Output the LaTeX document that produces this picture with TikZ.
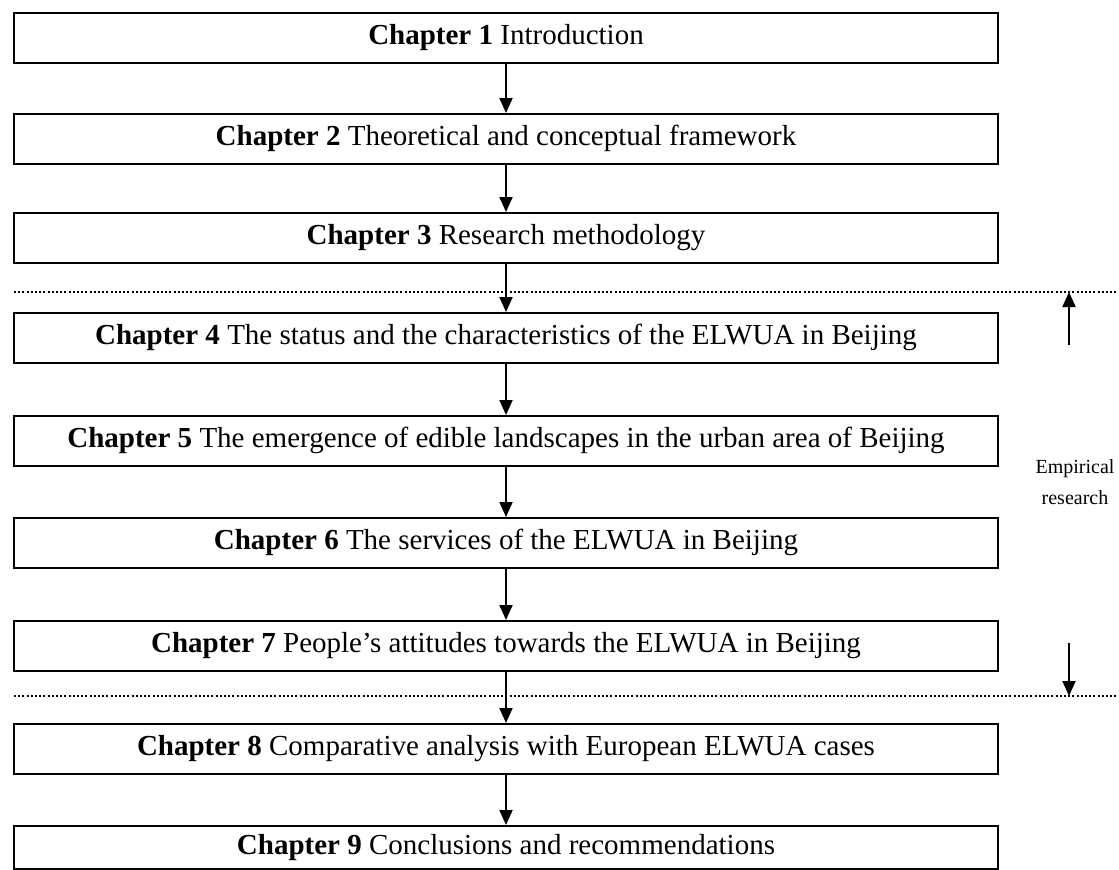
\documentclass[tikz,border=0pt]{standalone}
\usepackage{fontspec}
\setmainfont{Liberation Serif}
\usetikzlibrary{arrows.meta}

\begin{document}
\begin{tikzpicture}[x=1pt,y=-1pt,
    chap/.style={draw, line width=1.6pt, minimum width=984pt, minimum height=50pt,
      inner sep=0pt, anchor=north, font=\fontsize{29}{33}\selectfont},
    flow/.style={-{Triangle[width=13pt,length=15pt]}, line width=2pt},
    sep/.style={line width=2pt, dash pattern=on 2pt off 2.2pt}]
    \useasboundingbox (0,0) rectangle (1119,870);
    % chapters
    \node[chap] (c1) at (506,12) {\textbf{Chapter 1} Introduction};
    \node[chap] (c2) at (506,113) {\textbf{Chapter 2} Theoretical and conceptual framework};
    \node[chap] (c3) at (506,212) {\textbf{Chapter 3} Research methodology};
    \node[chap] (c4) at (506,312) {\textbf{Chapter 4} The status and the characteristics of the ELWUA in Beijing};
    \node[chap] (c5) at (506,415) {\textbf{Chapter 5} The emergence of edible landscapes in the urban area of Beijing};
    \node[chap] (c6) at (506,517) {\textbf{Chapter 6} The services of the ELWUA in Beijing};
    \node[chap] (c7) at (506,620) {\textbf{Chapter 7} People's attitudes towards the ELWUA in Beijing};
    \node[chap] (c8) at (506,723) {\textbf{Chapter 8} Comparative analysis with European ELWUA cases};
    \node[chap, minimum height=43pt] (c9) at (506,825) {\textbf{Chapter 9} Conclusions and recommendations};
    \draw[flow] (c1) -- (c2);
    \draw[flow] (c2) -- (c3);
    \draw[flow] (c3) -- (c4);
    \draw[flow] (c4) -- (c5);
    \draw[flow] (c5) -- (c6);
    \draw[flow] (c6) -- (c7);
    \draw[flow] (c7) -- (c8);
    \draw[flow] (c8) -- (c9);

    % empirical part
    \coordinate (d1a) at (14,292);
    \coordinate (d1b) at (1119,292);
    \coordinate (d2a) at (14,696);
    \coordinate (d2b) at (1119,696);
    \draw[sep] (d1a) -- (d1b);
    \draw[sep] (d2a) -- (d2b);
    \coordinate (upS) at (1069,345);
    \coordinate (upE) at (1069,292);
    \coordinate (dnS) at (1069,643);
    \coordinate (dnE) at (1069,696);
    \draw[flow] (upS) -- (upE);
    \draw[flow] (dnS) -- (dnE);
    \node[align=center, font=\fontsize{20}{31}\selectfont] (emp) at (1075,482) {Empirical\\research};
\end{tikzpicture}
\end{document}
